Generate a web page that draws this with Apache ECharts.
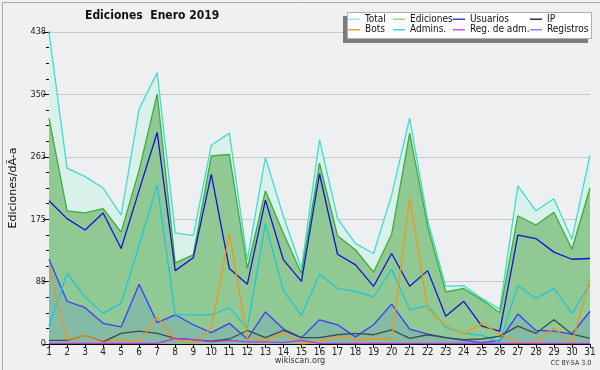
<!DOCTYPE html>
<html>
<head>
<meta charset="utf-8">
<script src="https://cdn.jsdelivr.net/npm/echarts@6/dist/echarts.min.js"></script>
<style>
html,body{margin:0;padding:0;background:#f0f0f0;}
#c{width:600px;height:370px;}
</style>
</head>
<body>
<div id="c"></div>
<script>
// ---- data ----
const days = ['1','2','3','4','5','6','7','8','9','10','11','12','13','14','15','16','17','18','19','20','21','22','23','24','25','26','27','28','29','30','31'];
const yTicks = [0, 88, 175, 263, 350, 438];
const total      = [438, 247, 235, 219, 181, 330, 381, 156, 152, 279, 296, 118, 262, 179, 106, 287, 176, 141, 127, 209, 317, 174, 81, 82, 64, 49, 222, 187, 204, 147, 265];
const ediciones  = [317, 187, 184, 190, 157, 244, 351, 114, 125, 264, 266, 106, 215, 155, 99, 254, 152, 132, 101, 154, 296, 165, 73, 78, 62, 44, 180, 167, 185, 133, 219];
const usuarios   = [201, 176, 160, 184, 134, 216, 297, 103, 121, 238, 106, 84, 202, 118, 88, 239, 126, 111, 81, 127, 81, 103, 39, 60, 25, 18, 153, 148, 129, 119, 120];
const ip         = [5, 5, 12, 3, 15, 18, 15, 8, 6, 4, 7, 19, 9, 19, 9, 9, 13, 15, 13, 20, 8, 13, 9, 6, 7, 11, 25, 15, 34, 14, 8];
const bots       = [110, 6, 12, 2, 6, 3, 38, 6, 1, 22, 155, 8, 5, 15, 0, 3, 11, 6, 7, 7, 205, 49, 26, 14, 29, 14, 1, 2, 22, 1, 91];
const admins     = [25, 99, 66, 43, 57, 139, 223, 41, 41, 41, 51, 22, 169, 75, 40, 98, 78, 74, 66, 105, 48, 54, 23, 15, 12, 3, 82, 64, 78, 43, 84];
const regAdm     = [1, 1, 1, 1, 1, 1, 1, 8, 6, 3, 5, 3, 3, 2, 5, 1, 1, 1, 1, 1, 1, 1, 1, 1, 1, 1, 1, 1, 1, 1, 1];
const registros  = [119, 60, 51, 29, 24, 84, 30, 41, 27, 16, 29, 7, 45, 21, 9, 34, 27, 10, 27, 56, 21, 14, 9, 5, 2, 5, 42, 19, 18, 14, 46];

const legendCols = [['Total','Bots'],['Ediciones','Admins.'],['Usuarios','Reg. de adm.'],['IP','Registros']];

// ---- styles ----
const COND = '"DejaVu Sans Condensed","DejaVu Sans",sans-serif';
const style = {
  'Total':        {color:'#3fdccd', legend:'#a6e6e0', area:'#daf1eb'},
  'Ediciones':    {color:'#3aad3a', legend:'#8fd68f', area:'#91c994'},
  'Registros':    {color:'#3c3cff', legend:'#8585ff', area:'#84bba5'},
  'Usuarios':     {color:'#1212d6', legend:'#3c3ce0'},
  'Admins.':      {color:'#1ec6da', legend:'#4ed0e0'},
  'IP':           {color:'#434a4a', legend:'#333333'},
  'Bots':         {color:'#f2951c', legend:'#f2a040'},
  'Reg. de adm.': {color:'#c030e0', legend:'#d050e6'}
};
const seriesData = [
  ['Total', total], ['Ediciones', ediciones], ['Registros', registros],
  ['Usuarios', usuarios], ['Admins.', admins], ['IP', ip], ['Bots', bots], ['Reg. de adm.', regAdm]
];

const series = seriesData.map(([name, data]) => {
  const s = style[name];
  const o = {
    name, type:'line', data, symbol:'none', smooth:false,
    lineStyle:{color:s.color, width:1.3},
    itemStyle:{color:s.color},
    emphasis:{disabled:true}
  };
  if (s.area) o.areaStyle = {color:s.area, opacity:1};
  return o;
});

const legends = legendCols.map((col, i) => ({
  orient:'vertical',
  left:[348, 393, 453, 530][i],
  top:14,
  padding:0,
  z:20,
  itemWidth:12, itemHeight:1.5, itemGap:0,
  icon:'rect',
  selectedMode:false,
  textStyle:{fontFamily:COND, fontSize:10, color:'#111', lineHeight:10.5, padding:[0,0,0,0]},
  data: col.map(n => ({name:n, itemStyle:{color:style[n].legend}}))
}));

const chart = echarts.init(document.getElementById('c'), null, {renderer:'canvas'});
chart.setOption({
  animation:false,
  backgroundColor:'#f0f0f0',
  title:{
    text:'Ediciones  Enero 2019', left:85, top:10, padding:0,
    textStyle:{fontFamily:COND, fontWeight:'bold', fontSize:12, color:'#111'}
  },
  legend: legends,
  grid:{left:47, right:10, top:32, bottom:26, show:true, backgroundColor:'#eeeff1', borderWidth:0},
  xAxis:{
    type:'category', data:days, boundaryGap:false,
    axisLine:{lineStyle:{color:'#000', width:1}},
    axisTick:{show:true, length:4, interval:0, lineStyle:{color:'#000'}},
    axisLabel:{interval:0, fontFamily:COND, fontSize:10, color:'#222', margin:3},
    splitLine:{show:false}
  },
  yAxis:{
    type:'value', min:0, max:438, interval:87.6,
    name:'Ediciones/dÃ-a', nameLocation:'middle', nameRotate:90, nameGap:30,
    nameTextStyle:{fontFamily:'"DejaVu Sans",sans-serif', fontSize:11, color:'#111'},
    axisLine:{show:true, lineStyle:{color:'#000', width:1}},
    axisTick:{show:true, length:6, lineStyle:{color:'#000'}},
    minorTick:{show:true, splitNumber:4, length:3, lineStyle:{color:'#000'}},
    axisLabel:{fontFamily:COND, fontSize:9, color:'#222', margin:3,
      formatter:(v)=>{ const r=Math.round(v); return yTicks.includes(r)? String(r) : ''; }},
    splitLine:{show:true, lineStyle:{color:'#c9c9c9', width:1}}
  },
  graphic:[
    {type:'rect', left:0, top:0, shape:{x:0.5,y:0.5,width:599,height:369}, style:{fill:null, stroke:'#a9a9a9', lineWidth:1}, silent:true, z:-10},
    {type:'rect', shape:{x:343, y:16, width:245, height:27}, style:{fill:'#7c7c7c'}, silent:true, z:3},
    {type:'rect', shape:{x:347.5, y:12.5, width:244, height:26}, style:{fill:'#ffffff', stroke:'#b0b0b0', lineWidth:1}, silent:true, z:4},
    {type:'text', x:300, y:361, style:{text:'wikiscan.org', font:'9px '+COND, fill:'#333', align:'center', verticalAlign:'middle'}, silent:true},
    {type:'text', x:571, y:363, style:{text:'CC BY-SA 3.0', font:'7px '+COND, fill:'#333', align:'center', verticalAlign:'middle'}, silent:true}
  ],
  series
});
</script>
</body>
</html>
